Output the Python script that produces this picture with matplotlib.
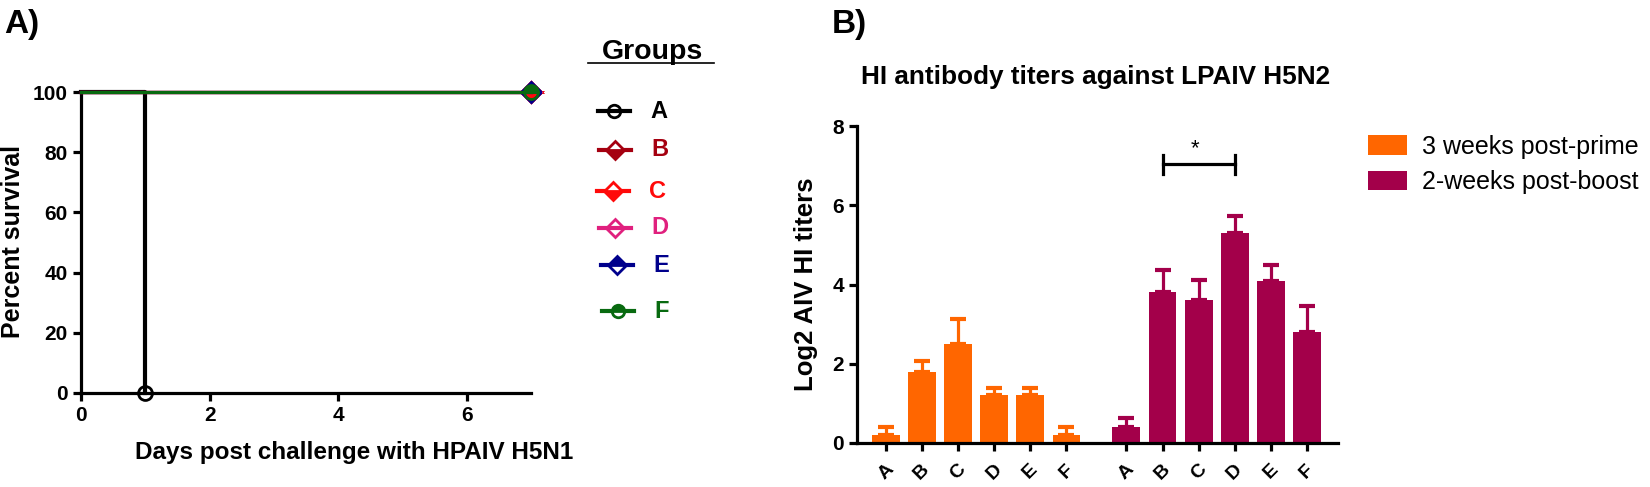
import matplotlib
matplotlib.use("Agg")
import matplotlib.pyplot as plt
import numpy as np

plt.rcParams["font.family"] = ["Liberation Sans", "DejaVu Sans"]
plt.rcParams["font.weight"] = "bold"

# panel A: survival after HPAIV H5N1 challenge
groups = ["A", "B", "C", "D", "E", "F"]
group_colors = ["#000000", "#a50010", "#ff0a0a", "#e0207e", "#00008c", "#086a10"]
surv_days = [[0, 1], [0, 7], [0, 7], [0, 7], [0, 7], [0, 7]]
surv_pct = [[100, 0], [100, 100], [100, 100], [100, 100], [100, 100], [100, 100]]
group_markers = ["o", "D", "D", "D", "D", "o"]
group_fill = ["none", "bottom", "bottom", "none", "top", "top"]

# panel B: HI titers against LPAIV H5N2
titer_labels = ["A", "B", "C", "D", "E", "F"]
prime_mean = [0.2, 1.8, 2.5, 1.2, 1.2, 0.2]
prime_err = [0.2, 0.26, 0.62, 0.2, 0.2, 0.2]
boost_mean = [0.4, 3.8, 3.6, 5.3, 4.1, 2.8]
boost_err = [0.22, 0.56, 0.52, 0.44, 0.4, 0.66]
prime_color = "#ff6600"
boost_color = "#a3004a"

W, H = 1650, 487
fig = plt.figure(figsize=(W / 100, H / 100), dpi=100)


def px_axes(left, top, right, bottom):
    return fig.add_axes([left / W, 1 - bottom / H, (right - left) / W, (bottom - top) / H])


def style_axes(ax):
    for side in ["top", "right"]:
        ax.spines[side].set_visible(False)
    for side in ["left", "bottom"]:
        ax.spines[side].set_linewidth(2.3)
    ax.tick_params(width=2.3, length=6, labelsize=15, direction="out")


# ---- panel A
ax_a = px_axes(81, 92, 531, 393)
for i, g in enumerate(groups):
    lw = 3.0 if g == "A" else 2.3
    ax_a.plot(surv_days[i], surv_pct[i], drawstyle="steps-post", color=group_colors[i],
              lw=lw, marker=group_markers[i], markevery=[1], markersize=10,
              fillstyle=group_fill[i], mew=2, markerfacecoloralt="none",
              clip_on=False, zorder=3 + i)
ax_a.set_xlim(0, 7)
ax_a.set_ylim(0, 100)
ax_a.set_xticks([0, 2, 4, 6])
ax_a.set_yticks([0, 20, 40, 60, 80, 100])
style_axes(ax_a)

# ---- panel B
ax_b = px_axes(857, 126, 1338, 443)
x1 = np.arange(len(titer_labels))
x2 = x1 + 6.66
bw = 0.77
ax_b.bar(x1, prime_mean, width=bw, color=prime_color, zorder=2, label="3 weeks post-prime")
ax_b.bar(x2, boost_mean, width=bw, color=boost_color, zorder=2, label="2-weeks post-boost")
ax_b.errorbar(x1, prime_mean, yerr=[np.zeros(6), prime_err], fmt="none", ecolor=prime_color,
              elinewidth=2.3, capsize=6, capthick=3, zorder=1)
ax_b.errorbar(x2, boost_mean, yerr=[np.zeros(6), boost_err], fmt="none", ecolor=boost_color,
              elinewidth=2.3, capsize=6, capthick=3, zorder=1)
# significance bracket B vs D (post-boost)
ax_b.plot([x2[1], x2[3]], [7.05, 7.05], color="black", lw=2.3)
ax_b.plot([x2[1], x2[1]], [6.8, 7.27], color="black", lw=2.3)
ax_b.plot([x2[3], x2[3]], [6.8, 7.27], color="black", lw=2.3)
ax_b.text((x2[1] + x2[3]) / 2 - 0.1, 7.15, "*", ha="center", va="bottom", fontsize=16,
          fontweight="normal")
ax_b.set_xlim(-0.8, 12.52)
ax_b.set_ylim(0, 8)
ax_b.set_yticks([0, 2, 4, 6, 8])
ax_b.set_xticks(np.concatenate([x1, x2]))
ax_b.set_xticklabels(titer_labels + titer_labels, rotation=45, ha="center", va="top")
style_axes(ax_b)
ax_b.tick_params(axis="x", labelsize=14, pad=7)
leg = ax_b.legend(loc="upper left", bbox_to_anchor=(1368 / W, 1 - 135 / H),
                  bbox_transform=fig.transFigure, frameon=False, borderpad=0,
                  borderaxespad=0, prop={"size": 18, "weight": "normal"},
                  handlelength=1.56, handleheight=0.84, labelspacing=0.45, handletextpad=0.6)

# ---- overlay in pixel coordinates for labels and the group key
ov = fig.add_axes([0, 0, 1, 1], facecolor="none")
ov.set_xlim(0, W)
ov.set_ylim(H, 0)
ov.axis("off")

ov.text(4, 25, "A)", fontsize=24, ha="left", va="center")
ov.text(832, 25, "B)", fontsize=24, ha="left", va="center")
ov.text(13, 242, "Percent survival", fontsize=18, rotation=90, ha="center", va="center")
ov.text(354, 452, "Days post challenge with HPAIV H5N1", fontsize=17.5, ha="center", va="center")
ov.text(806, 284, "Log2 AIV HI titers", fontsize=18.5, rotation=90, ha="center", va="center")
ov.text(1096, 77, "HI antibody titers against LPAIV H5N2", fontsize=18.8, ha="center", va="center")

ov.text(602, 52, "Groups", fontsize=20.5, ha="left", va="center")
ov.plot([588, 714], [63, 63], color="black", lw=1.2)
key_y = [111, 150, 191, 228, 265, 311]
key_x = [598, 599, 597, 599, 601, 602]
for i, g in enumerate(groups):
    x0 = key_x[i]
    ov.plot([x0, x0 + 32], [key_y[i], key_y[i]], color=group_colors[i], lw=3)
    ov.plot([x0 + 16], [key_y[i]], marker=group_markers[i], markersize=9, color=group_colors[i],
            fillstyle=group_fill[i], markerfacecoloralt="white", mew=2)
    ov.text(x0 + 52, key_y[i], g, color=group_colors[i], fontsize=17, ha="left", va="center")

fig.savefig("out.png", dpi=100)
